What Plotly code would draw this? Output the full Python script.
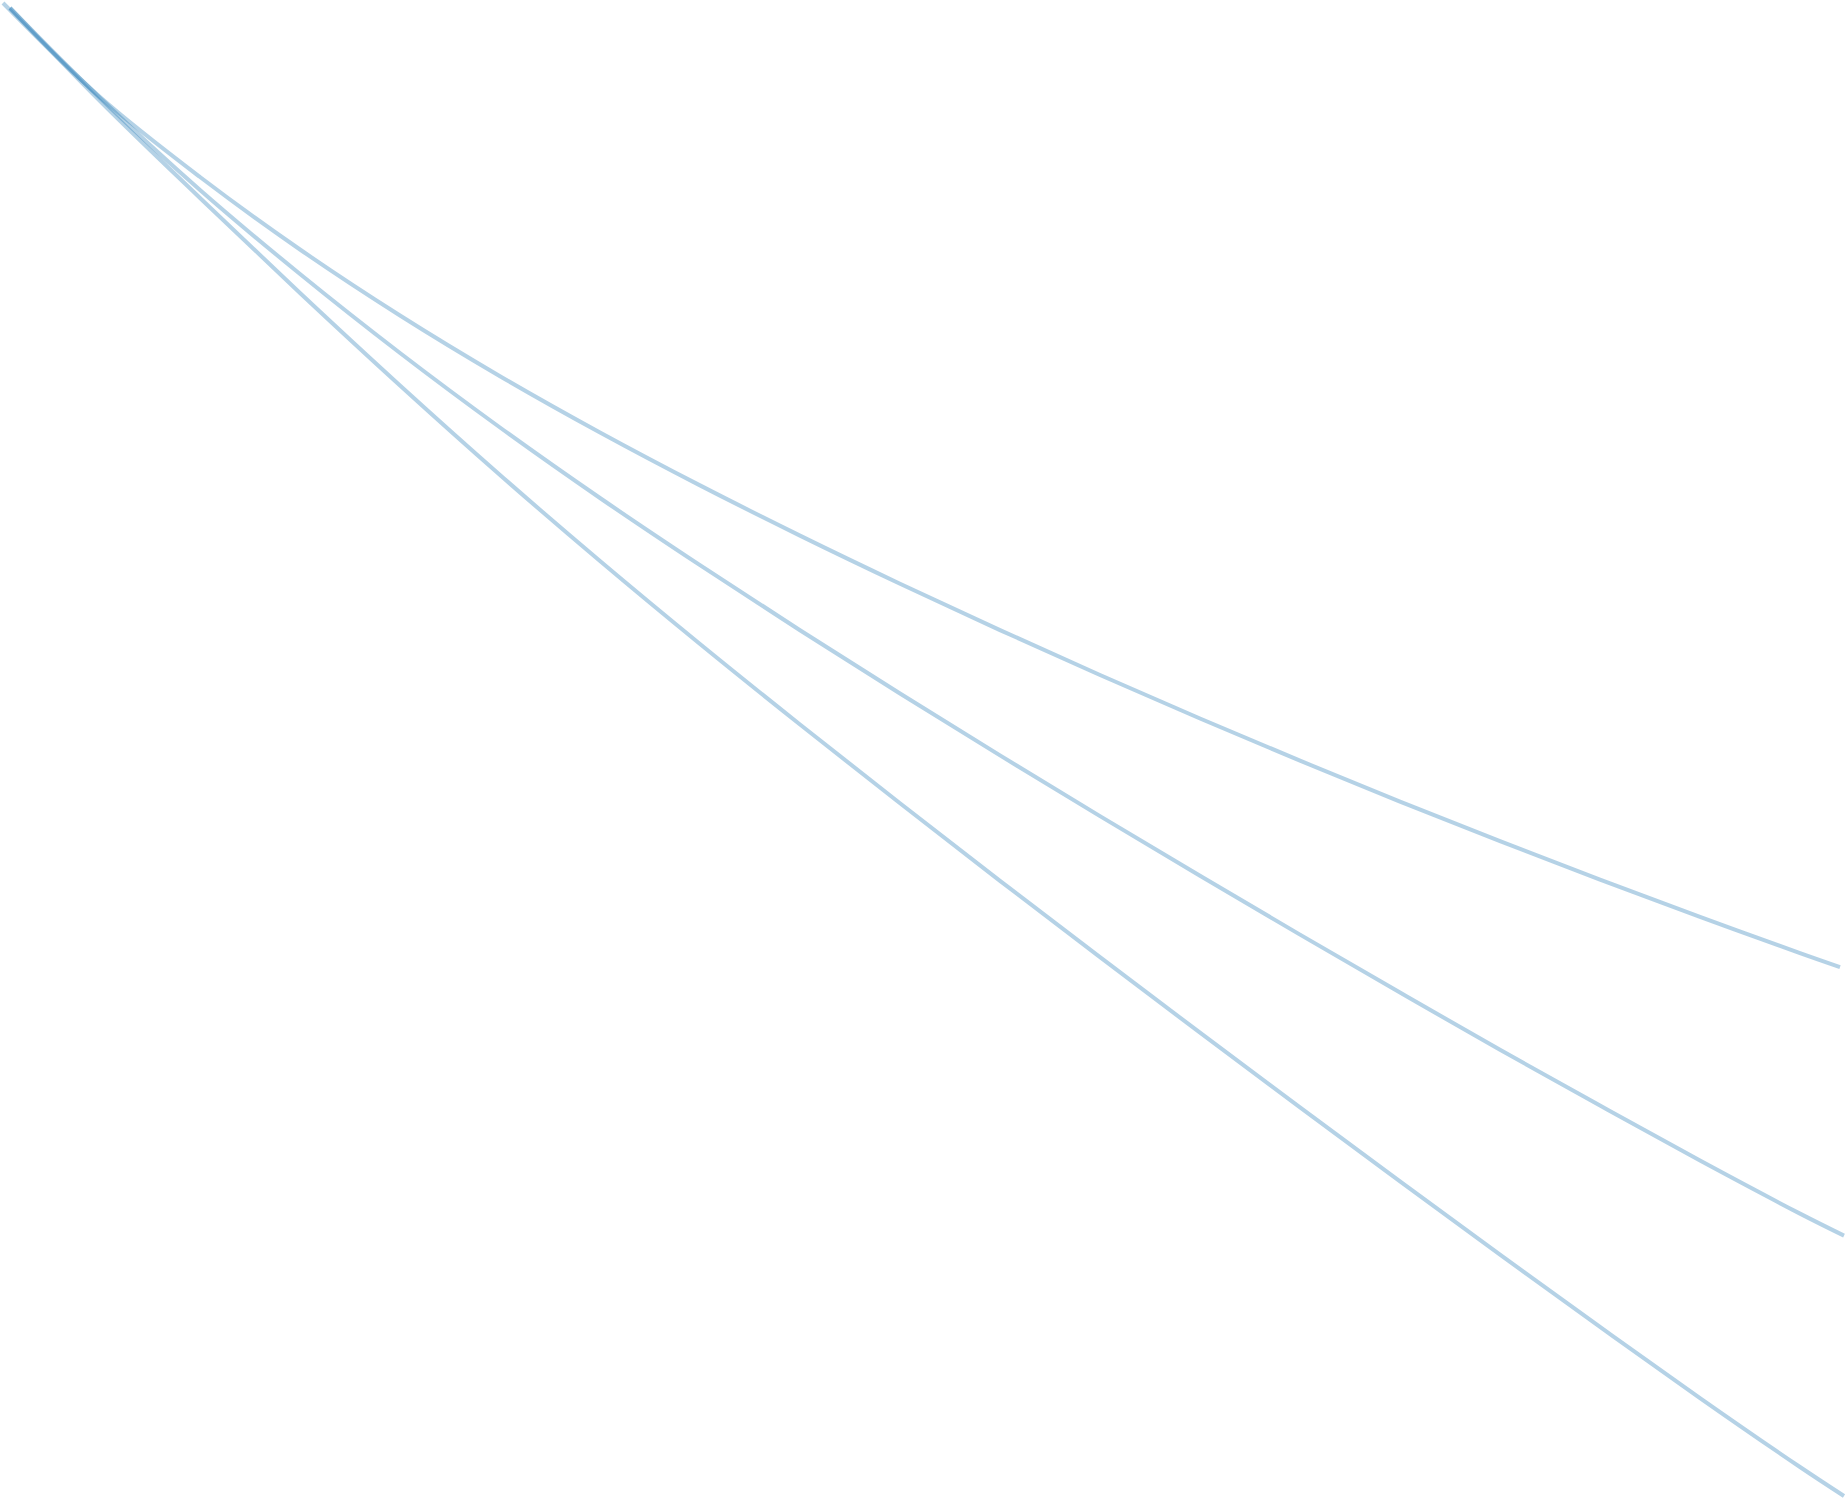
import plotly.graph_objects as go

# Values (chart units; no axes are shown in the original)
x_grid = [10, 20, 30, 40, 50, 60, 70, 80, 90, 100, 110, 120, 130, 140, 150, 160, 170, 180]

series_a_x = [0.3] + x_grid + [184.0]
series_a_y = [-0.3, -9.7, -17.7, -24.95, -31.55, -37.62, -43.25, -48.54, -53.56, -58.37, -63.01,
              -67.5, -71.85, -76.07, -80.16, -84.12, -87.96, -91.69, -95.31, -96.71]

series_b_x = [1.0] + x_grid + [184.4]
series_b_y = [-0.8, -9.8, -19.0, -27.4, -35.3, -42.75, -49.8, -56.52, -63.02, -69.35, -75.54,
              -81.61, -87.58, -93.46, -99.26, -104.98, -110.56, -116.06, -121.36, -123.56]

series_c_x = [1.0] + x_grid + [184.4]
series_c_y = [-0.8, -10.1, -19.8, -29.3, -38.55, -47.5, -56.1, -64.4, -72.45, -80.33, -88.08,
              -95.72, -103.27, -110.74, -118.14, -125.47, -132.69, -139.81, -146.7, -149.6]

line_color = "rgba(31,119,180,0.33)"

fig = go.Figure()
for xs, ys in [(series_a_x, series_a_y), (series_b_x, series_b_y), (series_c_x, series_c_y)]:
    fig.add_trace(go.Scatter(
        x=xs, y=ys, mode="lines",
        line=dict(color=line_color, width=4, shape="spline", smoothing=1.0),
        hoverinfo="skip",
    ))

fig.update_layout(
    width=1846, height=1499,
    margin=dict(l=0, r=0, t=0, b=0),
    paper_bgcolor="white", plot_bgcolor="white",
    showlegend=False,
    xaxis=dict(range=[0, 184.6], visible=False, showgrid=False, zeroline=False),
    yaxis=dict(range=[-149.9, 0], visible=False, showgrid=False, zeroline=False),
)

fig.write_html(
    "out.html",
    config={"displayModeBar": False},
    post_script="document.body.style.margin='0';document.body.style.overflow='hidden';",
)
